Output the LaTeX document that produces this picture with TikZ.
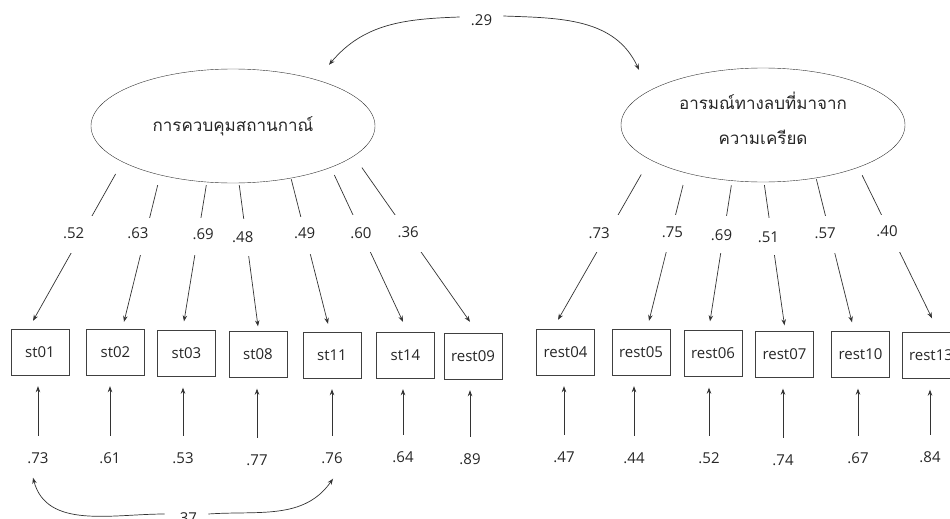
\documentclass[tikz,border=0pt]{standalone}
\usepackage{fontspec}
\setmainfont{Open Sans}
\newfontfamily\thaifont[Script=Thai]{Loma}
\usetikzlibrary{arrows.meta,shapes.geometric}

\begin{document}
\begin{tikzpicture}[
  x=1pt, y=1pt,
  every node/.style={font=\fontsize{15}{18}\selectfont, text=black!85},
  latent/.style={draw=black!80, ellipse, minimum width=284pt, minimum height=114pt, inner sep=0pt, align=center, font=\thaifont\fontsize{17}{35}\selectfont},
  obs/.style={draw=black!75, rectangle, minimum width=58pt, minimum height=46pt, inner sep=2pt},
  val/.style={inner sep=3pt},
  gapbox/.style={fill=white, minimum width=28pt, minimum height=37pt, inner sep=0pt},
  cov/.style={inner xsep=11pt, inner ysep=2pt},
  arr/.style={-{Stealth[length=6pt,width=4.5pt]}, draw=black!80, line width=0.7pt}
]
\useasboundingbox (0,0) rectangle (950,-519);
\clip (0,0) rectangle (950,-519);

% latent factors
\node[latent] (lat1) at (233,-126) {การควบคุมสถานกาณ์};
\node[latent, text depth=14pt] (lat2) at (763,-125) {อารมณ์ทางลบที่มาจาก\\ความเครียด};

% observed indicators
\foreach \name/\x/\y in {st01/40/352, st02/115.5/352, st03/186.5/353.5, st08/258/354.5,
  st11/332/355, st14/405.5/355, rest09/473/356, rest04/565.5/352, rest05/641/352,
  rest06/713/353.5, rest07/784.5/354.5, rest10/860.5/354.5, rest13/931/355.5}
  \node[obs] (\name) at (\x,-\y) {\name};

% factor loadings
\foreach \ang/\sh/\obs/\ex/\ey/\p/\dx/\dy/\val [count=\i] in {
  198/13.8/st01/-7/8/0.456/-7.9/1.5/.52,
  214/10.3/st02/8.5/7/0.418/-7.2/3.5/.63,
  245/3/st03/-2.5/9/0.393/5.3/3/.69,
  276/2/st08/0/5/0.378/-3.4/0.5/.48,
  318/1/st11/-4/8/0.39/-0.8/2/.49,
  337/8.3/st14/-2.5/10/0.43/-1/1/.60,
  346/14/rest09/-3/11/0.468/0/1/.36}
  \draw[arr, shorten <=\sh pt] (lat1.\ang) -- node[gapbox, pos=\p, name=ga\i,
    label={[val, name=la\i, xshift=\dx pt, yshift=\dy pt]center:\val}] {}
    ([xshift=\ex pt, yshift=\ey pt]\obs.north);

\foreach \ang/\sh/\obs/\ex/\ey/\p/\dx/\dy/\val [count=\i] in {
  197/17.2/rest04/-7.5/9/0.463/-8.1/0.5/.73,
  212/12.3/rest05/8/8/0.408/1.5/1.5/.75,
  241/4.5/rest06/-3/9/0.381/-2.1/-0.5/.69,
  271/3/rest07/0/6/0.382/-3.4/0/.51,
  315/1.2/rest10/-8.5/9/0.39/-4.9/1.5/.57,
  336/8.7/rest13/1/14/0.437/-3.5/2.5/.40}
  \draw[arr, shorten <=\sh pt] (lat2.\ang) -- node[gapbox, pos=\p, name=gb\i,
    label={[val, name=lb\i, xshift=\dx pt, yshift=\dy pt]center:\val}] {}
    ([xshift=\ex pt, yshift=\ey pt]\obs.north);

% error terms
\foreach \name/\x/\y/\val [count=\i] in {st01/38/458/.73, st02/110/458/.61, st03/183/458/.53,
  st08/257/460/.77, st11/332/458/.76, st14/403/457/.64, rest09/470/459/.89,
  rest04/564/457/.47, rest05/634/458/.44, rest06/709/458/.52, rest07/783/460/.74,
  rest10/858/458/.67, rest13/930/457/.84}
{
  \node[val] (e\i) at (\x,-\y) {\val};
  \draw[arr, shorten <=13.5pt, shorten >=11pt] (e\i.north) -- (e\i.north |- \name.south);
}

% covariances
\node[cov] (c29) at (481.5,-20) {.29};
\draw[arr] ([yshift=3pt]c29.west) to[out=182, in=50] ([xshift=96pt, yshift=4pt]lat1.north);
\draw[arr] ([yshift=4pt]c29.east) to[out=-2, in=115] ([xshift=-124pt, yshift=-2pt]lat2.north);

\node[cov] (c37) at (186.5,-518) {.37};
\draw[arr] ([yshift=4pt]c37.west) to[out=180, in=-75] ([xshift=-5pt, yshift=-11pt]e1.south);
\draw[arr] ([yshift=4pt]c37.east) to[out=4, in=-125] ([xshift=1pt, yshift=-12pt]e5.south);
\end{tikzpicture}
\end{document}
